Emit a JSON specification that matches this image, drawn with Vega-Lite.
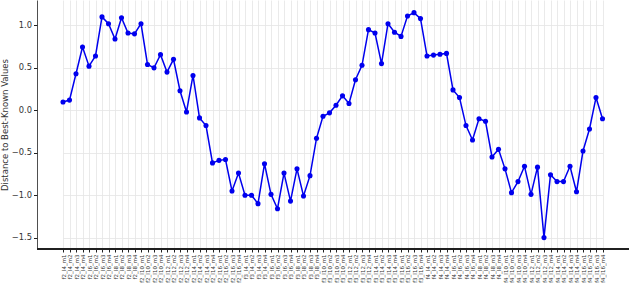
{
  "$schema": "https://vega.github.io/schema/vega-lite/v6.json",
  "autosize": "none",
  "width": 592,
  "height": 249,
  "padding": {"left": 37, "top": 0, "right": 1, "bottom": 35},
  "background": "white",
  "config": {
    "view": {"stroke": null},
    "font": "DejaVu Sans"
  },
  "data": {
    "values": [
      {"config": "f2_l4_m1", "v": 0.098},
      {"config": "f2_l4_m2", "v": 0.12},
      {"config": "f2_l4_m3", "v": 0.43},
      {"config": "f2_l4_m4", "v": 0.745},
      {"config": "f2_l6_m1", "v": 0.52},
      {"config": "f2_l6_m2", "v": 0.64},
      {"config": "f2_l6_m3", "v": 1.10},
      {"config": "f2_l6_m4", "v": 1.02},
      {"config": "f2_l8_m1", "v": 0.84},
      {"config": "f2_l8_m2", "v": 1.09},
      {"config": "f2_l8_m3", "v": 0.91},
      {"config": "f2_l8_m4", "v": 0.90},
      {"config": "f2_l10_m1", "v": 1.02},
      {"config": "f2_l10_m2", "v": 0.54},
      {"config": "f2_l10_m3", "v": 0.50},
      {"config": "f2_l10_m4", "v": 0.655},
      {"config": "f2_l12_m1", "v": 0.45},
      {"config": "f2_l12_m2", "v": 0.60},
      {"config": "f2_l12_m3", "v": 0.23},
      {"config": "f2_l12_m4", "v": -0.02},
      {"config": "f2_l14_m1", "v": 0.41},
      {"config": "f2_l14_m2", "v": -0.09},
      {"config": "f2_l14_m3", "v": -0.18},
      {"config": "f2_l14_m4", "v": -0.62},
      {"config": "f2_l16_m1", "v": -0.59},
      {"config": "f2_l16_m2", "v": -0.58},
      {"config": "f2_l16_m3", "v": -0.95},
      {"config": "f2_l16_m4", "v": -0.74},
      {"config": "f3_l4_m1", "v": -1.0},
      {"config": "f3_l4_m2", "v": -1.0},
      {"config": "f3_l4_m3", "v": -1.1},
      {"config": "f3_l4_m4", "v": -0.63},
      {"config": "f3_l6_m1", "v": -0.99},
      {"config": "f3_l6_m2", "v": -1.16},
      {"config": "f3_l6_m3", "v": -0.74},
      {"config": "f3_l6_m4", "v": -1.07},
      {"config": "f3_l8_m1", "v": -0.69},
      {"config": "f3_l8_m2", "v": -1.01},
      {"config": "f3_l8_m3", "v": -0.77},
      {"config": "f3_l8_m4", "v": -0.33},
      {"config": "f3_l10_m1", "v": -0.07},
      {"config": "f3_l10_m2", "v": -0.03},
      {"config": "f3_l10_m3", "v": 0.06},
      {"config": "f3_l10_m4", "v": 0.17},
      {"config": "f3_l12_m1", "v": 0.08},
      {"config": "f3_l12_m2", "v": 0.36},
      {"config": "f3_l12_m3", "v": 0.53},
      {"config": "f3_l12_m4", "v": 0.95},
      {"config": "f3_l14_m1", "v": 0.91},
      {"config": "f3_l14_m2", "v": 0.55},
      {"config": "f3_l14_m3", "v": 1.02},
      {"config": "f3_l14_m4", "v": 0.92},
      {"config": "f3_l16_m1", "v": 0.87},
      {"config": "f3_l16_m2", "v": 1.11},
      {"config": "f3_l16_m3", "v": 1.15},
      {"config": "f3_l16_m4", "v": 1.08},
      {"config": "f4_l4_m1", "v": 0.64},
      {"config": "f4_l4_m2", "v": 0.65},
      {"config": "f4_l4_m3", "v": 0.66},
      {"config": "f4_l4_m4", "v": 0.67},
      {"config": "f4_l6_m1", "v": 0.24},
      {"config": "f4_l6_m2", "v": 0.15},
      {"config": "f4_l6_m3", "v": -0.18},
      {"config": "f4_l6_m4", "v": -0.35},
      {"config": "f4_l8_m1", "v": -0.10},
      {"config": "f4_l8_m2", "v": -0.13},
      {"config": "f4_l8_m3", "v": -0.55},
      {"config": "f4_l8_m4", "v": -0.46},
      {"config": "f4_l10_m1", "v": -0.69},
      {"config": "f4_l10_m2", "v": -0.97},
      {"config": "f4_l10_m3", "v": -0.84},
      {"config": "f4_l10_m4", "v": -0.66},
      {"config": "f4_l12_m1", "v": -0.99},
      {"config": "f4_l12_m2", "v": -0.67},
      {"config": "f4_l12_m3", "v": -1.50},
      {"config": "f4_l12_m4", "v": -0.76},
      {"config": "f4_l14_m1", "v": -0.84},
      {"config": "f4_l14_m2", "v": -0.84},
      {"config": "f4_l14_m3", "v": -0.66},
      {"config": "f4_l14_m4", "v": -0.96},
      {"config": "f4_l16_m1", "v": -0.48},
      {"config": "f4_l16_m2", "v": -0.22},
      {"config": "f4_l16_m3", "v": 0.15},
      {"config": "f4_l16_m4", "v": -0.10}
    ]
  },
  "encoding": {
    "x": {
      "field": "config",
      "type": "ordinal",
      "sort": null,
      "scale": {"type": "point", "padding": 0, "range": [26, 565.5]},
      "axis": {
        "title": null,
        "labelAngle": -90,
        "labelFontSize": 5.5,
        "labelColor": "#333333",
        "labelPadding": 2,
        "tickSize": 3,
        "tickColor": "#222222",
        "domain": false,
        "grid": true,
        "gridColor": "#e4e4e4",
        "gridWidth": 0.8
      }
    },
    "y": {
      "field": "v",
      "type": "quantitative",
      "scale": {"domain": [-1.634, 1.299], "nice": false, "zero": false},
      "axis": {
        "title": "Distance to Best-Known Values",
        "titleFontSize": 8.5,
        "titleFontWeight": "normal",
        "titleColor": "#333333",
        "titlePadding": 2,
        "values": [-1.5, -1.0, -0.5, 0.0, 0.5, 1.0],
        "format": ".1f",
        "labelFontSize": 8.3,
        "labelColor": "#333333",
        "labelPadding": 2,
        "tickSize": 3.5,
        "tickColor": "#222222",
        "domainColor": "#222222",
        "domainWidth": 0.8,
        "grid": true,
        "gridColor": "#e4e4e4",
        "gridWidth": 0.8
      }
    }
  },
  "layer": [
    {
      "mark": {"type": "rule", "color": "#222222", "strokeWidth": 0.8},
      "encoding": {"y": {"datum": -1.634}, "x": null}
    },
    {"mark": {"type": "line", "color": "#0000ee", "strokeWidth": 1.5}},
    {"mark": {"type": "point", "filled": true, "color": "#0000ee", "size": 26, "opacity": 1}}
  ]
}
